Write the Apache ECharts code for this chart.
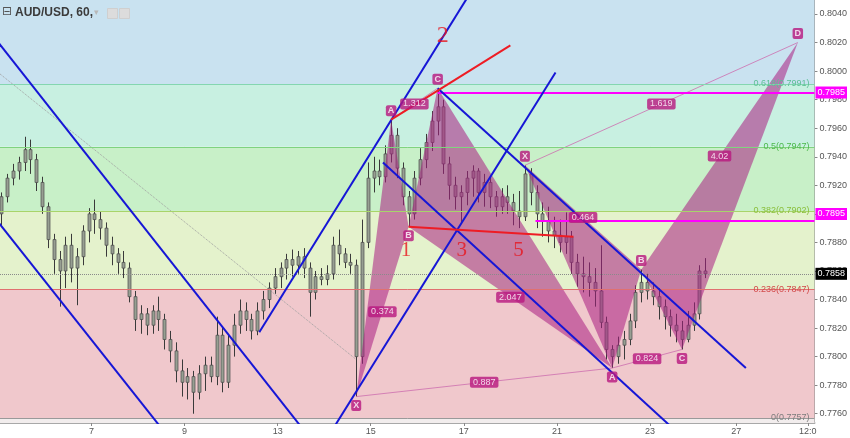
<!DOCTYPE html>
<html><head><meta charset="utf-8">
<script src="https://cdn.jsdelivr.net/npm/echarts@6/dist/echarts.min.js"></script>
<style>html,body{margin:0;padding:0;background:#fff}#c{width:850px;height:438px}</style>
</head><body><div id="c"></div>
<script>
// ---------- axes ----------
const xMin = 0.034, xMax = 17.534;          // time axis in trading-day units
const yMin = 0.77535, yMax = 0.80498;
const xTickPos = [2, 4, 6, 8, 10, 12, 14, 15.854, 17.39];
const xTickLabels = ['7', '9', '13', '15', '17', '21', '23', '27', '12:0'];
const yTickValues = [0.7760, 0.7780, 0.7800, 0.7820, 0.7840, 0.7860, 0.7880, 0.7900,
  0.7920, 0.7940, 0.7960, 0.7980, 0.8000, 0.8020, 0.8040];

// ---------- price bars (3-hour bars): open, close, low, high ----------
const barStart = 0.0625, barStep = 0.125;
const ohlc = [
[0.7900,0.7912,0.7892,0.7915],[0.7912,0.7925,0.7908,0.7928],[0.7925,0.7930,0.7920,0.7935],[0.7930,0.7936,0.7924,0.7940],
[0.7936,0.7945,0.7930,0.7954],[0.7945,0.7938,0.7928,0.7952],[0.7938,0.7922,0.7916,0.7942],[0.7922,0.7905,0.7900,0.7926],
[0.7905,0.7882,0.7876,0.7908],[0.7882,0.7868,0.7858,0.7886],[0.7868,0.7860,0.7835,0.7874],[0.7860,0.7878,0.7848,0.7884],
[0.7878,0.7862,0.7852,0.7886],[0.7862,0.7870,0.7836,0.7876],[0.7870,0.7888,0.7864,0.7892],[0.7888,0.7900,0.7880,0.7904],
[0.7900,0.7896,0.7886,0.7910],[0.7896,0.7890,0.7882,0.7902],[0.7890,0.7878,0.7870,0.7894],[0.7878,0.7872,0.7864,0.7884],
[0.7872,0.7866,0.7858,0.7876],[0.7866,0.7862,0.7855,0.7874],[0.7862,0.7842,0.7838,0.7866],[0.7842,0.7826,0.7818,0.7846],
[0.7826,0.7830,0.7816,0.7836],[0.7830,0.7822,0.7815,0.7834],[0.7822,0.7832,0.7816,0.7836],[0.7832,0.7826,0.7818,0.7842],
[0.7826,0.7812,0.7805,0.7830],[0.7812,0.7804,0.7796,0.7818],[0.7804,0.7790,0.7782,0.7810],[0.7790,0.7782,0.7772,0.7798],
[0.7782,0.7786,0.7770,0.7792],[0.7786,0.7775,0.7760,0.7790],[0.7775,0.7788,0.7770,0.7794],[0.7788,0.7794,0.7776,0.7800],
[0.7794,0.7786,0.7782,0.7800],[0.7786,0.7815,0.7780,0.7828],[0.7815,0.7782,0.7775,0.7820],[0.7782,0.7808,0.7778,0.7815],
[0.7808,0.7822,0.7800,0.7830],[0.7822,0.7832,0.7816,0.7840],[0.7832,0.7826,0.7818,0.7838],[0.7826,0.7818,0.7812,0.7830],
[0.7818,0.7832,0.7815,0.7838],[0.7832,0.7840,0.7826,0.7846],[0.7840,0.7848,0.7834,0.7852],[0.7848,0.7856,0.7844,0.7862],
[0.7856,0.7862,0.7848,0.7866],[0.7862,0.7868,0.7854,0.7872],[0.7868,0.7864,0.7856,0.7875],[0.7864,0.7870,0.7858,0.7874],
[0.7870,0.7862,0.7855,0.7876],[0.7862,0.7845,0.7828,0.7866],[0.7845,0.7856,0.7840,0.7860],[0.7856,0.7854,0.7850,0.7862],
[0.7854,0.7858,0.7850,0.7864],[0.7858,0.7878,0.7854,0.7884],[0.7878,0.7872,0.7864,0.7889],[0.7872,0.7866,0.7862,0.7876],
[0.7866,0.7864,0.7858,0.7872],[0.7864,0.7800,0.7772,0.7868],[0.7800,0.7880,0.7795,0.7896],[0.7880,0.7925,0.7876,0.7936],
[0.7925,0.7930,0.7915,0.7940],[0.7930,0.7926,0.7920,0.7938],[0.7926,0.7942,0.7922,0.7948],[0.7942,0.7955,0.7936,0.7966],
[0.7955,0.7932,0.7925,0.7960],[0.7932,0.7912,0.7906,0.7936],[0.7912,0.7900,0.7891,0.7916],[0.7900,0.7925,0.7896,0.7930],
[0.7925,0.7938,0.7920,0.7946],[0.7938,0.7950,0.7932,0.7956],[0.7950,0.7965,0.7944,0.7972],[0.7965,0.7975,0.7955,0.7988],
[0.7975,0.7935,0.7928,0.7980],[0.7935,0.7920,0.7910,0.7940],[0.7920,0.7912,0.7903,0.7926],[0.7912,0.7915,0.7894,0.7920],
[0.7915,0.7925,0.7906,0.7930],[0.7925,0.7930,0.7912,0.7934],[0.7930,0.7915,0.7908,0.7932],[0.7915,0.7922,0.7905,0.7928],
[0.7922,0.7912,0.7904,0.7926],[0.7912,0.7905,0.7898,0.7916],[0.7905,0.7912,0.7900,0.7918],[0.7912,0.7908,0.7900,0.7920],
[0.7908,0.7902,0.7892,0.7914],[0.7902,0.7898,0.7890,0.7916],[0.7898,0.7928,0.7895,0.7934],[0.7928,0.7915,0.7906,0.7932],
[0.7915,0.7900,0.7890,0.7920],[0.7900,0.7895,0.7884,0.7908],[0.7895,0.7888,0.7880,0.7905],[0.7888,0.7885,0.7876,0.7898],
[0.7885,0.7880,0.7873,0.7896],[0.7880,0.7884,0.7872,0.7901],[0.7884,0.7866,0.7858,0.7888],[0.7866,0.7858,0.7849,0.7872],
[0.7858,0.7856,0.7845,0.7870],[0.7856,0.7852,0.7842,0.7866],[0.7852,0.7846,0.7835,0.7862],[0.7846,0.7824,0.7820,0.7878],
[0.7824,0.7805,0.7798,0.7828],[0.7805,0.7800,0.7792,0.7808],[0.7800,0.7808,0.7795,0.7814],[0.7808,0.7812,0.7798,0.7818],
[0.7812,0.7825,0.7808,0.7830],[0.7825,0.7845,0.7820,0.7850],[0.7845,0.7852,0.7838,0.7861],[0.7852,0.7846,0.7840,0.7858],
[0.7846,0.7842,0.7836,0.7852],[0.7842,0.7835,0.7826,0.7848],[0.7835,0.7828,0.7819,0.7840],[0.7828,0.7822,0.7814,0.7833],
[0.7822,0.7818,0.7810,0.7830],[0.7818,0.7812,0.7805,0.7825],[0.7812,0.7822,0.7810,0.7832],[0.7822,0.7830,0.7818,0.7838],
[0.7830,0.7860,0.7826,0.7864],[0.7860,0.7858,0.7855,0.7869]
];
const lastPrice = 0.7858;

// ---------- Fibonacci retracement ----------
const fibRatios = ['0', '0.236', '0.382', '0.5', '0.618'];
const fibPrices = [0.7757, 0.7847, 0.7902, 0.7947, 0.7991];

// ---------- harmonic patterns (X, A, B, C, D) ----------
const pointNames = ['X', 'A', 'B', 'C', 'D'];
const pat1Points = [[7.6875, 0.7772], [8.4375, 0.7966], [8.8125, 0.7891], [9.4375, 0.7988], [13.1875, 0.7792]];
const pat1Ratios = ['0.374', '1.312', '2.047', '0.887'];   // XB, AC, BD, XD
const pat2Points = [[11.3125, 0.7934], [13.1875, 0.7792], [13.8125, 0.7861], [14.6875, 0.7805], [17.176, 0.8020]];
const pat2Ratios = ['0.464', '0.824', '4.02', '1.619'];

// ---------- drawn lines (time, price) ----------
const blueLines = [
  [[0.0, 0.8020], [6.5, 0.7751]],
  [[0.0, 0.7894], [3.5, 0.7750]],
  [[5.605, 0.7817], [10.2, 0.8058]],
  [[7.2, 0.7750], [11.97, 0.7999]],
  [[8.262, 0.7936], [14.45, 0.7751]],
  [[9.4375, 0.7988], [16.06, 0.7792]]
];
const redLines = [
  [[8.4375, 0.7966], [11.0, 0.8018]],
  [[8.8125, 0.7891], [12.355, 0.7884]]
];
const magentaLevels = [[9.4375, 0.7985], [11.54, 0.7895]];
const dottedLine = [[0.034, 0.7998], [7.6875, 0.7798]];
const waveLabels = ['1', '2', '3', '5'];
const wavePoints = [[8.755, 0.7874], [9.548, 0.8025], [9.955, 0.7874], [11.176, 0.7874]];

// ---------- styles ----------
const bandColors = ['#f2eded', '#f0c8cc', '#e4f2cc', '#c8f0c8', '#c8f0e1', '#c9e2f0'];
const fibLineColors = ['#9a9a9a', '#e07070', '#a8d46a', '#7fd37f', '#84d6b0'];
const fibTextColors = ['#7c7c7c', '#d24a4a', '#8abf3c', '#4cb84c', '#5cbf94'];
const patFill = 'rgba(170,30,130,0.55)';
const tagBg = '#b8177e';
const tagShift = [0, -7];

const chart = echarts.init(document.getElementById('c'));

const bandEdges = [yMin].concat(fibPrices, [yMax]);
const bandData = bandColors.map((c, i) => [{ yAxis: bandEdges[i], itemStyle: { color: c } }, { yAxis: bandEdges[i + 1] }]);
const fibLineData = fibPrices.map((p, i) => {
  const ls = { color: fibLineColors[i], width: 1, type: 'solid' };
  return [
    { coord: [xMin, p], lineStyle: ls },
    { coord: [xMax, p], lineStyle: ls,
      label: { formatter: fibRatios[i] + '(' + p.toFixed(4) + ')', color: fibTextColors[i] } }
  ];
});

const candleData = ohlc.map((r, i) => [barStart + barStep * i, r[0], r[1], r[2], r[3]]);

const pats = [pat1Points, pat2Points];
const tris = [];
pats.forEach(P => {
  tris.push([...P[0], ...P[1], ...P[2]]);
  tris.push([...P[2], ...P[3], ...P[4]]);
});

function lineSeries(pts, color, width, type, z) {
  return { type: 'line', data: pts, symbol: 'none', z: z, silent: true, clip: true,
    lineStyle: { color: color, width: width, type: type || 'solid' }, animation: false };
}
const series = [];
// background bands + fib lines
series.push({ type: 'line', data: [], z: 0, silent: true,
  markArea: { silent: true, data: bandData },
  markLine: { silent: true, symbol: ['none', 'none'], data: fibLineData,
    label: { show: true, position: 'insideEnd', distance: 5, fontSize: 9, fontFamily: 'Arial' } }
});
// current price dotted line
const lpStyle = { color: '#8a8a8a', type: 'dotted', width: 1 };
series.push({ type: 'line', data: [], z: 1, silent: true,
  markLine: { silent: true, symbol: ['none', 'none'],
    data: [[{ coord: [xMin, lastPrice], lineStyle: lpStyle },
            { coord: [xMax, lastPrice], lineStyle: lpStyle, label: { formatter: lastPrice.toFixed(4) } }]],
    label: { show: true, position: 'end', distance: 1,
      backgroundColor: '#000', color: '#fff', fontSize: 9, fontFamily: 'Arial', padding: [2, 2, 1, 2] } }
});
series.push(lineSeries(dottedLine, '#a0a0a0', 1, 'dotted', 1));
// candles
series.push({ type: 'custom', z: 2, silent: true, clip: true, data: candleData,
  encode: { x: 0, y: [1, 2, 3, 4] },
  renderItem: (params, api) => {
    const x = api.value(0);
    const pO = api.coord([x, api.value(1)]), pC = api.coord([x, api.value(2)]);
    const pL = api.coord([x, api.value(3)]), pH = api.coord([x, api.value(4)]);
    const w = 3, cx = Math.round(pO[0]) + 0.5;
    const top = Math.min(pO[1], pC[1]);
    const h = Math.max(1, Math.abs(pO[1] - pC[1]));
    return { type: 'group', children: [
      { type: 'line', shape: { x1: cx, y1: pH[1], x2: cx, y2: pL[1] }, style: { stroke: '#3a3a3a', lineWidth: 1 } },
      { type: 'rect', shape: { x: cx - w / 2, y: top, width: w, height: h }, style: { fill: '#979f92', stroke: '#4a4a4a', lineWidth: 0.7 } }
    ] };
  }
});
// pattern triangles
series.push({ type: 'custom', z: 3, silent: true, clip: true, data: tris,
  encode: { x: [0, 2, 4], y: [1, 3, 5] },
  renderItem: (params, api) => {
    const pts = [0, 1, 2].map(k => api.coord([api.value(2 * k), api.value(2 * k + 1)]));
    return { type: 'polygon', shape: { points: pts }, style: { fill: patFill } };
  }
});
// thin connectors X-D and A-C
pats.forEach(P => {
  series.push(lineSeries([P[0], P[4]], 'rgba(205,110,175,0.8)', 1, 'solid', 4));
  series.push(lineSeries([P[1], P[3]], 'rgba(205,110,175,0.8)', 1, 'solid', 4));
});
blueLines.forEach(l => series.push(lineSeries(l, '#1616d6', 2, 'solid', 5)));
redLines.forEach(l => series.push(lineSeries(l, '#ee1c24', 2, 'solid', 5)));
// magenta levels with axis tags
const mgStyle = { color: '#ff00ff', width: 2, type: 'solid' };
series.push({ type: 'line', data: [], z: 6, silent: true,
  markLine: { silent: true, symbol: ['none', 'none'],
    label: { show: true, position: 'end', distance: 1, backgroundColor: '#ff00ff', color: '#fff',
      fontSize: 9, fontFamily: 'Arial', padding: [2, 2, 1, 2] },
    data: magentaLevels.map((m, i) => [
      { coord: [m[0], m[1]], lineStyle: mgStyle },
      { coord: [xMax, m[1]], lineStyle: mgStyle,
        label: { formatter: m[1].toFixed(4), offset: i === 1 ? tagShift : [0, 0] } }
    ]) }
});
// point letters
const letterData = [];
pats.forEach((P, pi) => {
  P.forEach((pt, k) => {
    if (pi === 0 && k === 4) return; // hidden under second pattern's A
    const ref = k === 0 ? P[1] : P[k - 1];
    const isTop = pt[1] > ref[1];
    letterData.push({ value: pt, label: { formatter: pointNames[k], offset: [0, isTop ? -9 : 9] } });
  });
});
series.push({ type: 'scatter', z: 10, silent: true, data: letterData, symbolSize: 1,
  itemStyle: { color: 'rgba(0,0,0,0)' },
  label: { show: true, position: 'inside', backgroundColor: tagBg, color: '#fff', fontSize: 9,
    fontWeight: 'bold', fontFamily: 'Arial', padding: [1, 2, 0, 2], borderRadius: 2, lineHeight: 10 } });
// ratio labels at segment midpoints: XB, AC, BD, XD
const ratioPairs = [[0, 2], [1, 3], [2, 4], [0, 4]];
const ratioData = [];
[[pat1Points, pat1Ratios], [pat2Points, pat2Ratios]].forEach(([P, R]) => {
  ratioPairs.forEach((pr, j) => {
    const a = P[pr[0]], b = P[pr[1]];
    ratioData.push({ value: [(a[0] + b[0]) / 2, (a[1] + b[1]) / 2], label: { formatter: R[j] } });
  });
});
series.push({ type: 'scatter', z: 10, silent: true, data: ratioData, symbolSize: 1,
  itemStyle: { color: 'rgba(0,0,0,0)' },
  label: { show: true, position: 'inside', backgroundColor: tagBg, color: '#fff', fontSize: 9,
    fontFamily: 'Arial', padding: [1, 3, 0, 3], borderRadius: 2, lineHeight: 10 } });
// wave numbers
series.push({ type: 'scatter', z: 10, silent: true, symbolSize: 1, itemStyle: { color: 'rgba(0,0,0,0)' },
  data: wavePoints.map((p, i) => ({ value: p, label: { formatter: waveLabels[i], fontSize: waveLabels[i] === '2' ? 24 : 21 } })),
  label: { show: true, position: 'inside', color: '#e8141c', fontFamily: 'Liberation Serif' } });

chart.setOption({
  animation: false,
  backgroundColor: '#fff',
  title: { text: 'AUD/USD, 60,', left: 15, top: 7, padding: 0,
    textStyle: { fontSize: 12, fontWeight: 'bold', color: '#3b3b3b', fontFamily: 'Arial' } },
  graphic: [
    { type: 'text', left: 2, top: 6, style: { text: '⊟', fontSize: 12, fill: '#555', fontFamily: 'DejaVu Sans' }, z: 100 },
    { type: 'text', left: 94, top: 8, style: { text: '▾', fontSize: 9, fill: '#b8b8b8', fontFamily: 'DejaVu Sans' }, z: 100 },
    { type: 'rect', left: 107, top: 8, shape: { width: 10, height: 10 }, style: { fill: '#dcdcdc', stroke: '#cfcfcf' }, z: 100 },
    { type: 'rect', left: 119, top: 8, shape: { width: 10, height: 10 }, style: { fill: '#dcdcdc', stroke: '#cfcfcf' }, z: 100 }
  ],
  grid: { left: 0, right: 33.3, top: 0, bottom: 15, containLabel: false },
  xAxis: { type: 'value', min: xMin, max: xMax,
    axisLine: { show: true, lineStyle: { color: '#a8a8a8', width: 2 } },
    axisTick: { show: true, length: 3, customValues: xTickPos, lineStyle: { color: '#888' } },
    axisLabel: { customValues: xTickPos, margin: 4, fontSize: 9, color: '#555', fontFamily: 'Arial',
      formatter: v => { const i = xTickPos.indexOf(v); return i >= 0 ? xTickLabels[i] : ''; } },
    splitLine: { show: true, customValues: xTickPos, lineStyle: { color: 'rgba(0,0,0,0.07)' } } },
  yAxis: { type: 'value', position: 'right', min: yMin, max: yMax, scale: true,
    axisLine: { show: true, lineStyle: { color: '#8c8c8c', width: 1 } },
    axisTick: { show: true, length: 3, customValues: yTickValues, lineStyle: { color: '#888' } },
    axisLabel: { customValues: yTickValues, margin: 5, fontSize: 9, color: '#555', fontFamily: 'Arial',
      formatter: v => v.toFixed(4) },
    splitLine: { show: true, customValues: yTickValues, lineStyle: { color: 'rgba(0,0,0,0.06)' } } },
  series: series
});
</script></body></html>
